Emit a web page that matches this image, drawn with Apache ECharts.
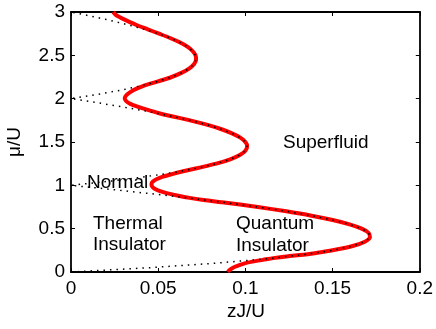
<!DOCTYPE html>
<html>
<head>
<meta charset="utf-8">
<script src="https://cdn.jsdelivr.net/npm/echarts@6/dist/echarts.min.js"></script>
<style>
html,body{margin:0;padding:0;background:#fff;}
#c{width:436px;height:329px;}
</style>
</head>
<body>
<div id="c"></div>
<script>
// Finite-temperature phase boundary (red, thick)
const redMu = [0,0.02,0.04,0.06,0.08,0.10,0.12,0.14,0.16,0.18,0.20,0.22,0.25,0.30,0.35,0.40,0.45,0.50,0.55,0.60,0.65,0.70,0.75,0.80,0.83,0.855,0.88,0.905,0.93,0.955,0.98,1.00,1.02,1.045,1.07,1.10,1.13,1.165,1.20,1.25,1.30,1.35,1.40,1.45,1.50,1.55,1.60,1.65,1.70,1.75,1.80,1.835,1.87,1.905,1.94,1.975,2.005,2.04,2.075,2.11,2.14,2.17,2.20,2.25,2.30,2.35,2.40,2.45,2.50,2.55,2.60,2.65,2.70,2.75,2.80,2.85,2.90,2.94,2.97,3.00];
const redZJ = [0.0899,0.0908,0.0922,0.0940,0.0965,0.0995,0.1040,0.1100,0.1160,0.1235,0.1333,0.1407,0.1500,0.1615,0.1685,0.1714,0.1707,0.1667,0.1597,0.1500,0.1379,0.1235,0.1071,0.0889,0.0760,0.0680,0.0615,0.0560,0.0515,0.0485,0.0468,0.0462,0.0462,0.0470,0.0490,0.0527,0.0580,0.0650,0.0727,0.0833,0.0913,0.0968,0.1000,0.1010,0.1000,0.0971,0.0923,0.0859,0.0778,0.0682,0.0571,0.0500,0.0440,0.0385,0.0340,0.0315,0.0308,0.0318,0.0340,0.0370,0.0405,0.0450,0.0500,0.0577,0.0636,0.0679,0.0706,0.0717,0.0714,0.0697,0.0667,0.0623,0.0568,0.0505,0.0440,0.0375,0.0320,0.0280,0.0255,0.0242];

// Zero-temperature lobe boundary (black, dotted)
const dotMu = [0,0.05,0.1,0.15,0.2,0.25,0.3,0.35,0.4,0.45,0.5,0.55,0.6,0.65,0.7,0.75,0.8,0.85,0.9,0.95,1.0,1.05,1.1,1.15,1.2,1.25,1.3,1.35,1.4,1.45,1.5,1.55,1.6,1.65,1.7,1.75,1.8,1.85,1.9,1.95,2.0,2.05,2.1,2.15,2.2,2.25,2.3,2.35,2.4,2.45,2.5,2.55,2.6,2.65,2.7,2.75,2.8,2.85,2.9,2.95,3.0];
const dotZJ = [0,0.0452,0.0818,0.1109,0.1333,0.15,0.1615,0.1685,0.1714,0.1707,0.1667,0.1597,0.15,0.1379,0.1235,0.1071,0.0889,0.0689,0.0474,0.0244,0,0.0232,0.0429,0.0593,0.0727,0.0833,0.0913,0.0968,0.1,0.101,0.1,0.0971,0.0923,0.0859,0.0778,0.0682,0.0571,0.0447,0.031,0.0161,0,0.0156,0.029,0.0405,0.05,0.0577,0.0636,0.0679,0.0706,0.0717,0.0714,0.0697,0.0667,0.0623,0.0568,0.05,0.0421,0.0331,0.0231,0.012,0];

const xTickLabels = ['0','0.05','0.1','0.15','0.2'];
const yTickLabels = ['0','0.5','1','1.5','2','2.5','3'];

const FONT = "'Liberation Sans', Arial, Helvetica, sans-serif";
const FS = 19;

const chart = echarts.init(document.getElementById('c'), null, {renderer:'canvas'});

const axisCommon = {
  type:'value',
  splitLine:{show:false},
  axisLine:{show:true, onZero:false, lineStyle:{color:'#000', width:1.8}},
  axisTick:{show:true, inside:true, length:4, lineStyle:{color:'#000', width:1}}
};

chart.setOption({
  animation:false,
  backgroundColor:'#fff',
  grid:{left:71, right:15, top:12, bottom:57},
  xAxis:[
    Object.assign({}, axisCommon, {position:'bottom', min:0, max:0.2, interval:0.05,
      axisLabel:{show:true, color:'#000', fontSize:FS, fontFamily:FONT, margin:7,
        formatter:(v,i)=>xTickLabels[i]}}),
    Object.assign({}, axisCommon, {position:'top', min:0, max:0.2, interval:0.05,
      axisLabel:{show:false}})
  ],
  yAxis:[
    Object.assign({}, axisCommon, {position:'left', min:0, max:3, interval:0.5,
      axisLabel:{show:true, color:'#000', fontSize:FS, fontFamily:FONT, margin:6,
        formatter:(v,i)=>yTickLabels[i]}}),
    Object.assign({}, axisCommon, {position:'right', min:0, max:3, interval:0.5,
      axisLabel:{show:false}})
  ],
  series:[
    {
      type:'line', xAxisIndex:0, yAxisIndex:0,
      data: redMu.map((m,i)=>[redZJ[i], m]),
      showSymbol:false, smooth:0.3,
      lineStyle:{color:'#ff0000', width:4},
      z:2
    },
    {
      type:'line', xAxisIndex:0, yAxisIndex:0,
      data: dotMu.map((m,i)=>[dotZJ[i], m]),
      showSymbol:false,
      lineStyle:{color:'#000', width:1.5, type:[1.5,5]},
      z:3
    }
  ],
  graphic:[
    {type:'text', x:283, y:143, style:{text:'Superfluid', font:FS+'px '+FONT, fill:'#000', textAlign:'left', textVerticalAlign:'middle'}, z:10},
    {type:'text', x:87, y:183, style:{text:'Normal', font:FS+'px '+FONT, fill:'#000', textAlign:'left', textVerticalAlign:'middle'}, z:10},
    {type:'text', x:93, y:224, style:{text:'Thermal', font:FS+'px '+FONT, fill:'#000', textAlign:'left', textVerticalAlign:'middle'}, z:10},
    {type:'text', x:93, y:245, style:{text:'Insulator', font:FS+'px '+FONT, fill:'#000', textAlign:'left', textVerticalAlign:'middle'}, z:10},
    {type:'text', x:236, y:224, style:{text:'Quantum', font:FS+'px '+FONT, fill:'#000', textAlign:'left', textVerticalAlign:'middle'}, z:10},
    {type:'text', x:236, y:246, style:{text:'Insulator', font:FS+'px '+FONT, fill:'#000', textAlign:'left', textVerticalAlign:'middle'}, z:10},
    {type:'text', x:246, y:312, style:{text:'zJ/U', font:FS+'px '+FONT, fill:'#000', textAlign:'center', textVerticalAlign:'middle'}, z:10},
    {type:'text', x:15, y:142, rotation:Math.PI/2, style:{text:'μ/U', font:FS+'px '+FONT, fill:'#000', textAlign:'center', textVerticalAlign:'middle'}, z:10}
  ]
});
</script>
</body>
</html>
